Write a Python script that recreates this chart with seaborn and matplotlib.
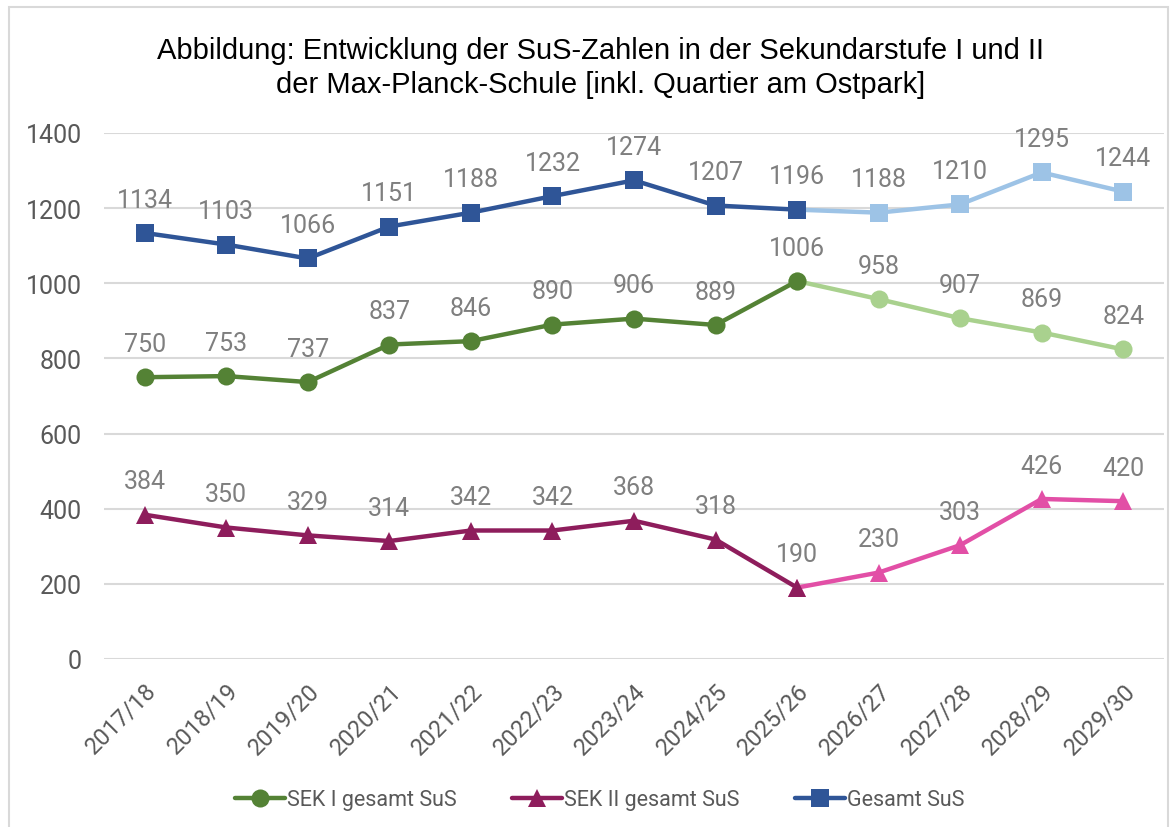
import matplotlib
matplotlib.use("Agg")
import matplotlib.pyplot as plt
import seaborn as sns
import pandas as pd
from matplotlib.lines import Line2D
from matplotlib.patches import Rectangle

years = ["2017/18", "2018/19", "2019/20", "2020/21", "2021/22", "2022/23", "2023/24",
         "2024/25", "2025/26", "2026/27", "2027/28", "2028/29", "2029/30"]
sek1 = [750, 753, 737, 837, 846, 890, 906, 889, 1006, 958, 907, 869, 824]
sek2 = [384, 350, 329, 314, 342, 342, 368, 318, 190, 230, 303, 426, 420]
gesamt = [1134, 1103, 1066, 1151, 1188, 1232, 1274, 1207, 1196, 1188, 1210, 1295, 1244]
series_names = ["SEK I gesamt SuS", "SEK II gesamt SuS", "Gesamt SuS"]
split = 8  # index of last "actual" year (2025/26)

sns.set_theme(style="white")
plt.rcParams["font.family"] = ["Roboto", "DejaVu Sans"]

fig = plt.figure(figsize=(11.76, 8.28), dpi=100)
ax = fig.add_axes([104/1176, 1 - 660/828, (1164-104)/1176, (660-134)/828])

styles = [
    (sek1, "o", "#548235", "#A9D18E", 13),
    (sek2, "^", "#8E1D5C", "#E24FA6", 13),
    (gesamt, "s", "#2F5597", "#9DC3E6", 12.5),
]
lw = 3.2
x_idx = list(range(len(years)))
for vals, mk, dark, light, ms in styles:
    df = pd.DataFrame({"x": x_idx, "y": vals})
    light_df = df.iloc[split:]
    dark_df = df.iloc[:split + 1]
    sns.lineplot(data=light_df, x="x", y="y", ax=ax, color=light, linewidth=lw,
                 marker=mk, markersize=ms, markeredgewidth=0, zorder=3)
    sns.lineplot(data=dark_df, x="x", y="y", ax=ax, color=dark, linewidth=lw,
                 marker=mk, markersize=ms, markeredgewidth=0, zorder=4)
    for xi, v in zip(x_idx, vals):
        ax.annotate(str(v), (xi, v), xytext=(0, 24), textcoords="offset points",
                    ha="center", va="center", fontsize=18, color="#7F7F7F", zorder=5)

ax.set_xlim(-0.5, len(years) - 0.5)
ax.set_ylim(0, 1400)
ax.set_yticks(range(0, 1401, 200))
ax.set_xticks(x_idx)
ax.set_xticklabels(years, rotation=45, ha="right", rotation_mode="anchor")
ax.tick_params(axis="both", length=0, labelsize=18, labelcolor="#595959")
ax.tick_params(axis="x", labelsize=17)
ax.tick_params(axis="y", pad=16)
ax.tick_params(axis="x", pad=14)
ax.grid(axis="y", color="#D9D9D9", linewidth=1.5)
ax.set_axisbelow(True)
for s in ax.spines.values():
    s.set_visible(False)
ax.set_xlabel("")
ax.set_ylabel("")

title_font = ["Liberation Sans", "DejaVu Sans"]
fig.text(0.511, 1 - 51/828, "Abbildung: Entwicklung der SuS-Zahlen in der Sekundarstufe I und II",
         ha="center", va="center", fontsize=21, family=title_font, color="#000000")
fig.text(0.511, 1 - 85/828, "der Max-Planck-Schule [inkl. Quartier am Ostpark]",
         ha="center", va="center", fontsize=21, family=title_font, color="#000000")

handles = [Line2D([], [], color=d, marker=m, markersize=ms, linewidth=lw, markeredgewidth=0)
           for (_, m, d, _, ms) in styles]
fig.legend(handles, series_names, loc="center", bbox_to_anchor=(0.51, 1 - 801/828), ncol=3,
           frameon=False, fontsize=15.5, handlelength=2.3, handletextpad=0.1, columnspacing=2.6,
           labelcolor="#595959")

fig.patches.append(Rectangle((9/1176, -0.01), (1168-9)/1176, 1.0, transform=fig.transFigure,
                             fill=False, edgecolor="#D9D9D9", linewidth=1.5))

fig.savefig("out.png", dpi=100)
